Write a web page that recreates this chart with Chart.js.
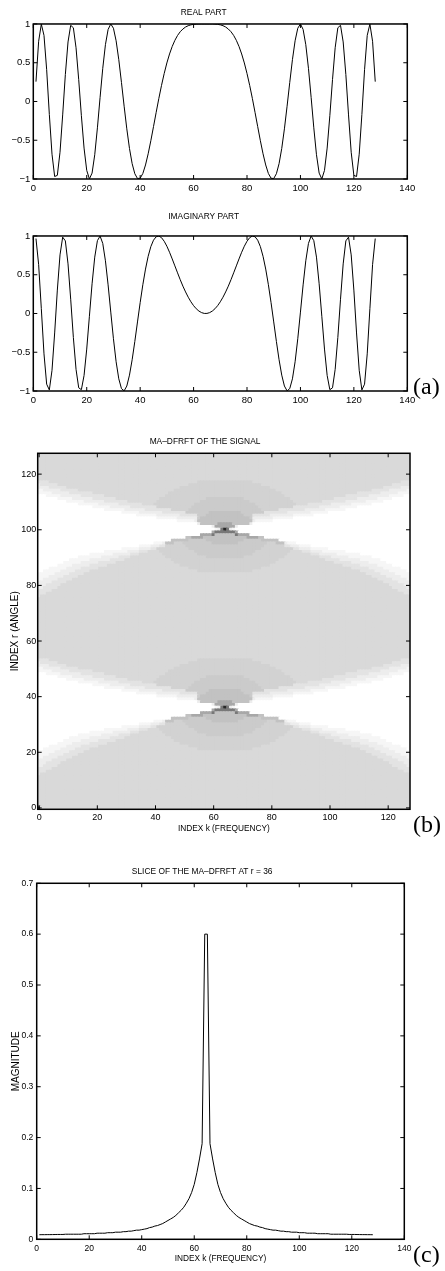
<!DOCTYPE html>
<html lang="en">
<head>
  <meta charset="UTF-8">
  <title>MA-DFRFT of a chirp signal</title>
  <script src="https://cdn.jsdelivr.net/npm/chart.js"></script>
  <style>
    * { margin: 0; padding: 0; box-sizing: border-box; }
    body { width: 445px; height: 1271px; background: #fff; position: relative; overflow: hidden; }
    canvas { position: absolute; left: 0; display: block; }
  </style>
</head>
<body>
  <canvas id="realChart" width="445" height="200" style="top:0"></canvas>
  <canvas id="imagChart" width="445" height="212" style="top:200px"></canvas>
  <canvas id="heatChart" width="445" height="428" style="top:412px"></canvas>
  <canvas id="sliceChart" width="445" height="431" style="top:840px"></canvas>

  <script>
    // ---- data ----
    // (a) chirp signal, samples n = 1..128
    const realPart = [
      0.256, 0.777, 0.998, 0.853, 0.410, -0.167, -0.680, -0.968,
      -0.953, -0.655, -0.173, 0.348, 0.768, 0.983, 0.951, 0.693,
      0.282, -0.183, -0.601, -0.889, -0.999, -0.924, -0.687, -0.340,
      0.053, 0.428, 0.733, 0.929, 1.000, 0.945, 0.783, 0.539,
      0.246, -0.061, -0.353, -0.606, -0.802, -0.932, -0.994, -0.990,
      -0.929, -0.819, -0.675, -0.506, -0.324, -0.140, 0.040, 0.208,
      0.361, 0.497, 0.613, 0.710, 0.789, 0.852, 0.900, 0.935,
      0.961, 0.978, 0.989, 0.995, 0.998, 1.000, 1.000, 1.000,
      1.000, 1.000, 1.000, 0.998, 0.995, 0.989, 0.978, 0.961,
      0.935, 0.900, 0.852, 0.789, 0.710, 0.613, 0.497, 0.361,
      0.208, 0.040, -0.140, -0.324, -0.506, -0.675, -0.819, -0.929,
      -0.990, -0.994, -0.932, -0.802, -0.606, -0.353, -0.061, 0.246,
      0.539, 0.783, 0.945, 1.000, 0.929, 0.733, 0.428, 0.053,
      -0.340, -0.687, -0.924, -0.999, -0.889, -0.601, -0.183, 0.282,
      0.693, 0.951, 0.983, 0.768, 0.348, -0.173, -0.655, -0.953,
      -0.968, -0.680, -0.167, 0.410, 0.853, 0.998, 0.777, 0.256
    ];
    const imagPart = [
      0.967, 0.630, 0.062, -0.521, -0.912, -0.986, -0.733, -0.251,
      0.302, 0.756, 0.985, 0.937, 0.640, 0.184, -0.310, -0.721,
      -0.959, -0.983, -0.800, -0.459, -0.036, 0.383, 0.727, 0.940,
      0.999, 0.904, 0.680, 0.369, 0.018, -0.326, -0.623, -0.843,
      -0.969, -0.998, -0.936, -0.795, -0.597, -0.361, -0.109, 0.140,
      0.371, 0.573, 0.738, 0.863, 0.946, 0.990, 0.999, 0.978,
      0.932, 0.868, 0.790, 0.704, 0.614, 0.524, 0.436, 0.353,
      0.278, 0.210, 0.151, 0.101, 0.061, 0.031, 0.011, 0.001,
      0.001, 0.011, 0.031, 0.061, 0.101, 0.151, 0.210, 0.278,
      0.353, 0.436, 0.524, 0.614, 0.704, 0.790, 0.868, 0.932,
      0.978, 0.999, 0.990, 0.946, 0.863, 0.738, 0.573, 0.371,
      0.140, -0.109, -0.361, -0.597, -0.795, -0.936, -0.998, -0.969,
      -0.843, -0.623, -0.326, 0.018, 0.369, 0.680, 0.904, 0.999,
      0.940, 0.727, 0.383, -0.036, -0.459, -0.800, -0.983, -0.959,
      -0.721, -0.310, 0.184, 0.640, 0.937, 0.985, 0.756, 0.302,
      -0.251, -0.733, -0.986, -0.912, -0.521, 0.062, 0.630, 0.967
    ];

    // (b) MA-DFRFT magnitude, 128 x 128 cells, row r = 127 first.
    // run-length coded "level*count" along k; level 0 = darkest ... 9 = white
    const heatRuns = [
      '5*128', '5*128', '5*128', '5*128', '5*128',
      '5*128', '5*128', '5*128', '5*128', '5*128',
      '6*4 5*51 a*19 5*51 6*3',
      '7*1 6*6 5*45 a*25 5*45 6*6',
      '7*4 6*6 5*39 a*31 5*39 6*6 7*3',
      '8*2 7*6 6*6 5*33 a*35 5*33 6*6 7*6 8*1',
      '8*5 7*6 6*8 5*26 a*39 5*26 6*8 7*6 8*4',
      '9*3 8*5 7*7 6*8 5*21 a*41 5*21 6*8 7*7 8*5 9*2',
      '9*7 8*5 7*7 6*8 5*15 a*16 4*13 a*16 5*15 6*8 7*7 8*5 9*6',
      '9*10 8*6 7*7 6*8 5*10 a*15 4*17 a*15 5*10 6*8 7*7 8*6 9*9',
      '9*14 8*7 7*7 6*8 5*4 a*14 4*21 a*14 5*4 6*8 7*7 8*7 9*13',
      '9*19 8*6 7*7 6*9 a*12 4*23 a*12 6*9 7*7 8*6 9*18',
      '9*23 8*7 7*7 6*9 a*6 4*25 a*6 6*9 7*7 8*7 9*22',
      '9*29 8*6 7*8 6*8 4*8 3*11 4*8 6*8 7*8 8*6 9*28',
      '9*34 8*7 7*8 6*6 4*3 3*13 4*3 6*6 7*8 8*7 9*33',
      '9*41 8*7 7*7 4*1 3*17 4*1 7*7 8*7 9*40',
      '9*48 8*6 7*1 3*19 7*1 8*6 9*47',
      '9*55 7*1 3*6 2*5 3*6 7*1 9*54',
      '9*60 7*1 2*7 7*1 9*59',
      '9*61 8*1 7*1 1*1 0*1 1*1 7*1 8*1 9*60',
      '9*60 2*1 1*7 2*1 9*59',
      '9*56 2*4 1*1 3*7 1*1 2*4 9*55',
      '9*51 3*2 2*4 3*15 2*4 3*2 9*50',
      '9*46 3*6 4*6 3*13 4*6 3*6 9*45',
      '9*40 8*3 7*1 3*3 a*3 4*10 3*9 4*10 a*3 3*3 7*1 8*3 9*39',
      '9*35 8*4 7*3 6*2 a*7 4*27 a*7 6*2 7*3 8*4 9*34',
      '9*29 8*6 7*4 6*2 a*11 4*25 a*11 6*2 7*4 8*6 9*28',
      '9*23 8*8 7*4 6*3 5*4 a*12 4*21 a*12 5*4 6*3 7*4 8*8 9*22',
      '9*18 8*8 7*6 6*3 5*8 a*12 4*19 a*12 5*8 6*3 7*6 8*8 9*17',
      '9*14 8*8 7*6 6*4 5*12 a*14 4*13 a*14 5*12 6*4 7*6 8*8 9*13',
      '9*11 8*7 7*7 6*5 5*16 a*37 5*16 6*5 7*7 8*7 9*10',
      '9*9 8*6 7*6 6*6 5*20 a*35 5*20 6*6 7*6 8*6 9*8',
      '9*7 8*5 7*6 6*6 5*25 a*31 5*25 6*6 7*6 8*5 9*6',
      '9*4 8*6 7*5 6*6 5*31 a*25 5*31 6*6 7*5 8*6 9*3',
      '9*2 8*6 7*5 6*5 5*37 a*19 5*37 6*5 7*5 8*6 9*1',
      '8*6 7*5 6*5 5*97 6*5 7*5 8*5',
      '8*4 7*5 6*5 5*101 6*5 7*5 8*3',
      '8*2 7*5 6*5 5*105 6*5 7*5 8*1',
      '7*5 6*5 5*109 6*5 7*4',
      '7*3 6*5 5*113 6*5 7*2',
      '7*2 6*5 5*115 6*5 7*1',
      '6*5 5*119 6*4',
      '6*3 5*123 6*2',
      '6*1 5*127',
      '5*128', '5*128', '5*128', '5*128',
      '5*128', '5*128', '5*128', '5*128',
      '5*128', '5*128', '5*128', '5*128', '5*128', '5*128', '5*128',
      '5*128', '5*128', '5*128', '5*128', '5*128', '5*128', '5*128',
      '6*4 5*51 a*19 5*51 6*3',
      '7*1 6*6 5*45 a*25 5*45 6*6',
      '7*4 6*6 5*39 a*31 5*39 6*6 7*3',
      '8*2 7*6 6*6 5*33 a*35 5*33 6*6 7*6 8*1',
      '8*5 7*6 6*8 5*26 a*39 5*26 6*8 7*6 8*4',
      '9*3 8*5 7*7 6*8 5*21 a*41 5*21 6*8 7*7 8*5 9*2',
      '9*7 8*5 7*7 6*8 5*15 a*16 4*13 a*16 5*15 6*8 7*7 8*5 9*6',
      '9*10 8*6 7*7 6*8 5*10 a*15 4*17 a*15 5*10 6*8 7*7 8*6 9*9',
      '9*14 8*7 7*7 6*8 5*4 a*14 4*21 a*14 5*4 6*8 7*7 8*7 9*13',
      '9*19 8*6 7*7 6*9 a*12 4*23 a*12 6*9 7*7 8*6 9*18',
      '9*23 8*7 7*7 6*9 a*6 4*25 a*6 6*9 7*7 8*7 9*22',
      '9*29 8*6 7*8 6*8 4*8 3*11 4*8 6*8 7*8 8*6 9*28',
      '9*34 8*7 7*8 6*6 4*3 3*13 4*3 6*6 7*8 8*7 9*33',
      '9*41 8*7 7*7 4*1 3*17 4*1 7*7 8*7 9*40',
      '9*48 8*6 7*1 3*19 7*1 8*6 9*47',
      '9*55 7*1 3*6 2*5 3*6 7*1 9*54',
      '9*60 7*1 2*7 7*1 9*59',
      '9*61 8*1 7*1 1*1 0*1 1*1 7*1 8*1 9*60',
      '9*60 2*1 1*7 2*1 9*59',
      '9*56 2*4 1*1 3*7 1*1 2*4 9*55',
      '9*51 3*2 2*4 3*15 2*4 3*2 9*50',
      '9*46 3*6 4*6 3*13 4*6 3*6 9*45',
      '9*40 8*3 7*1 3*3 a*3 4*10 3*9 4*10 a*3 3*3 7*1 8*3 9*39',
      '9*35 8*4 7*3 6*2 a*7 4*27 a*7 6*2 7*3 8*4 9*34',
      '9*29 8*6 7*4 6*2 a*11 4*25 a*11 6*2 7*4 8*6 9*28',
      '9*23 8*8 7*4 6*3 5*4 a*12 4*21 a*12 5*4 6*3 7*4 8*8 9*22',
      '9*18 8*8 7*6 6*3 5*8 a*12 4*19 a*12 5*8 6*3 7*6 8*8 9*17',
      '9*14 8*8 7*6 6*4 5*12 a*14 4*13 a*14 5*12 6*4 7*6 8*8 9*13',
      '9*11 8*7 7*7 6*5 5*16 a*37 5*16 6*5 7*7 8*7 9*10',
      '9*9 8*6 7*6 6*6 5*20 a*35 5*20 6*6 7*6 8*6 9*8',
      '9*7 8*5 7*6 6*6 5*25 a*31 5*25 6*6 7*6 8*5 9*6',
      '9*4 8*6 7*5 6*6 5*31 a*25 5*31 6*6 7*5 8*6 9*3',
      '9*2 8*6 7*5 6*5 5*37 a*19 5*37 6*5 7*5 8*6 9*1',
      '8*6 7*5 6*5 5*97 6*5 7*5 8*5',
      '8*4 7*5 6*5 5*101 6*5 7*5 8*3',
      '8*2 7*5 6*5 5*105 6*5 7*5 8*1',
      '7*5 6*5 5*109 6*5 7*4',
      '7*3 6*5 5*113 6*5 7*2',
      '7*2 6*5 5*115 6*5 7*1',
      '6*5 5*119 6*4',
      '6*3 5*123 6*2',
      '6*1 5*127',
      '5*128', '5*128', '5*128', '5*128',
      '5*128', '5*128', '5*128', '5*128',
      '5*128', '5*128', '5*128',
      '1*1 5*127'
    ];

    // (c) slice at r = 36, k = 1..128
    const sliceValues = [
      0.0090, 0.0091, 0.0091, 0.0092, 0.0092, 0.0093, 0.0094, 0.0095, 0.0095, 0.0095,
      0.010, 0.010, 0.010, 0.010, 0.010, 0.010, 0.010, 0.011, 0.011, 0.011,
      0.011, 0.011, 0.012, 0.012, 0.012, 0.012, 0.013, 0.013, 0.013, 0.014,
      0.014, 0.014, 0.015, 0.015, 0.016, 0.016, 0.017, 0.018, 0.018, 0.019,
      0.020, 0.021, 0.023, 0.024, 0.026, 0.027, 0.029, 0.031, 0.034, 0.037,
      0.040, 0.043, 0.047, 0.052, 0.057, 0.063, 0.071, 0.080, 0.092, 0.108,
      0.131, 0.158, 0.188, 0.600,
      0.600, 0.188, 0.158, 0.131, 0.108, 0.092, 0.080, 0.071, 0.063, 0.057,
      0.052, 0.047, 0.043, 0.040, 0.037, 0.034, 0.031, 0.029, 0.027, 0.026,
      0.024, 0.023, 0.021, 0.020, 0.019, 0.018, 0.018, 0.017, 0.016, 0.016,
      0.015, 0.015, 0.014, 0.014, 0.014, 0.013, 0.013, 0.013, 0.012, 0.012,
      0.012, 0.012, 0.011, 0.011, 0.011, 0.011, 0.011, 0.010, 0.010, 0.010,
      0.010, 0.010, 0.010, 0.010, 0.0095, 0.0095, 0.0095, 0.0094, 0.0093, 0.0092,
      0.0092, 0.0091, 0.0091, 0.0090
    ];

    const signalXTicks = [0, 20, 40, 60, 80, 100, 120, 140];
    const signalYTicks = [-1, -0.5, 0, 0.5, 1];
    const heatTicks = [0, 20, 40, 60, 80, 100, 120];
    const sliceYTicks = [0, 0.1, 0.2, 0.3, 0.4, 0.5, 0.6, 0.7];

    // ---- styling ----
    const grayLevels = { 0: 40, 1: 120, 2: 168, 3: 194, 4: 203, a: 210, 5: 217, 6: 227, 7: 237, 8: 246, 9: 255 };

    Chart.defaults.font.family = "'Liberation Sans', Arial, Helvetica, sans-serif";
    Chart.defaults.color = '#000';
    Chart.defaults.animation = false;
    Chart.defaults.events = [];
    Chart.defaults.plugins.legend.display = false;
    Chart.defaults.plugins.tooltip.enabled = false;

    const minus = v => String(v).replace('-', '\u2212');

    function linearAxis({ min, max, ticks, size, fontSize, pad, horizontal, title }) {
      return {
        type: 'linear',
        min, max,
        afterBuildTicks: s => { s.ticks = ticks.map(value => ({ value })); },
        afterFit: s => { if (horizontal) s.height = size; else s.width = size; },
        grid: { display: false, drawTicks: false },
        border: { display: false },
        ticks: { autoSkip: false, maxRotation: 0, padding: pad, font: { size: fontSize }, callback: minus },
        title: title || { display: false }
      };
    }

    function chartTitle(text, top, bottom) {
      return { display: true, text, font: { size: 8.4, weight: 'normal' }, padding: { top, bottom } };
    }

    // MATLAB style box with inward ticks on all four sides
    const axesBox = {
      id: 'axesBox',
      afterDatasetsDraw(chart) {
        const { ctx, chartArea: a, scales: { x, y } } = chart;
        const len = 4;
        ctx.save();
        ctx.strokeStyle = '#000';
        ctx.lineWidth = 1;
        ctx.beginPath();
        x.ticks.forEach(t => {
          const p = x.getPixelForValue(t.value);
          ctx.moveTo(p, a.bottom); ctx.lineTo(p, a.bottom - len);
          ctx.moveTo(p, a.top); ctx.lineTo(p, a.top + len);
        });
        y.ticks.forEach(t => {
          const p = y.getPixelForValue(t.value);
          ctx.moveTo(a.left, p); ctx.lineTo(a.left + len, p);
          ctx.moveTo(a.right, p); ctx.lineTo(a.right - len, p);
        });
        ctx.stroke();
        ctx.lineWidth = 1.5;
        ctx.strokeRect(a.left, a.top, a.width, a.height);
        ctx.restore();
      }
    };

    // (a) / (b) / (c) tags
    const panelTag = {
      id: 'panelTag',
      afterDraw(chart, args, opts) {
        if (!opts.text) return;
        const { ctx } = chart;
        ctx.save();
        ctx.font = "24px 'Liberation Serif', 'Times New Roman', serif";
        ctx.fillStyle = '#000';
        ctx.textBaseline = 'middle';
        ctx.fillText(opts.text, opts.x, opts.y);
        ctx.restore();
      }
    };

    function signalChart(id, values, titleText, titlePad, tag) {
      return new Chart(document.getElementById(id), {
        type: 'line',
        data: {
          datasets: [{
            data: values.map((v, i) => ({ x: i + 1, y: v })),
            borderColor: '#000',
            borderWidth: 1,
            pointRadius: 0,
            tension: 0
          }]
        },
        options: {
          responsive: false,
          layout: { padding: { left: 0, right: 37.7, top: 0, bottom: 0 } },
          scales: {
            x: linearAxis({ min: 0, max: 140, ticks: signalXTicks, size: 21, fontSize: 9.5, pad: 3.6, horizontal: true }),
            y: linearAxis({ min: -1, max: 1, ticks: signalYTicks, size: 33.3, fontSize: 9.5, pad: 3 })
          },
          plugins: { title: chartTitle(titleText, titlePad[0], titlePad[1]), panelTag: tag }
        },
        plugins: [axesBox, panelTag]
      });
    }

    signalChart('realChart', realPart, 'REAL PART', [8, 5.9], {});
    signalChart('imagChart', imagPart, 'IMAGINARY PART', [12, 13.9], { text: '(a)', x: 413, y: 188 });

    // heatmap cells
    const heatCells = [];
    const heatColors = [];
    heatRuns.forEach((row, i) => {
      const r = heatRuns.length - 1 - i;
      let k = 0;
      row.split(' ').forEach(run => {
        const [lvl, count] = run.split('*');
        const g = grayLevels[lvl];
        for (let n = 0; n < Number(count); n++) {
          heatCells.push({ x: k, y: r });
          heatColors.push(`rgb(${g},${g},${g})`);
          k++;
        }
      });
    });

    // squares slightly larger than one cell so neighbours overlap (no seams)
    const cellRadius = ctx => {
      const { x, y } = ctx.chart.scales;
      const w = Math.abs(x.getPixelForValue(1) - x.getPixelForValue(0));
      const h = Math.abs(y.getPixelForValue(0) - y.getPixelForValue(1));
      return (Math.max(w, h) + 1.2) / Math.SQRT2;
    };

    new Chart(document.getElementById('heatChart'), {
      type: 'scatter',
      data: {
        datasets: [{
          data: heatCells,
          pointStyle: 'rect',
          pointBackgroundColor: heatColors,
          pointBorderWidth: 0,
          pointRadius: cellRadius,
          pointHoverRadius: cellRadius,
          clip: 0
        }]
      },
      options: {
        responsive: false,
        layout: { padding: { left: 0, right: 35, top: 0, bottom: 0 } },
        scales: {
          x: linearAxis({
            min: -0.5, max: 127.5, ticks: heatTicks, size: 30.7, fontSize: 9, pad: 3.3, horizontal: true,
            title: { display: true, text: 'INDEX k (FREQUENCY)', font: { size: 8.3 }, padding: { top: 0, bottom: 6 } }
          }),
          y: linearAxis({
            min: -0.5, max: 127.5, ticks: heatTicks, size: 37.7, fontSize: 9, pad: 1.5,
            title: { display: true, text: 'INDEX r (ANGLE)', font: { size: 10 }, padding: { top: 9, bottom: 0 } }
          })
        },
        plugins: { title: chartTitle('MA\u2013DFRFT OF THE SIGNAL', 25, 6.2), panelTag: { text: '(b)', x: 413, y: 414 } }
      },
      plugins: [axesBox, panelTag]
    });

    new Chart(document.getElementById('sliceChart'), {
      type: 'line',
      data: {
        datasets: [{
          data: sliceValues.map((v, i) => ({ x: i + 1, y: v })),
          borderColor: '#000',
          borderWidth: 1,
          pointRadius: 0,
          tension: 0
        }]
      },
      options: {
        responsive: false,
        layout: { padding: { left: 0, right: 40.7, top: 0, bottom: 0 } },
        scales: {
          x: linearAxis({
            min: 0, max: 140, ticks: signalXTicks, size: 31.7, fontSize: 8.5, pad: 3.9, horizontal: true,
            title: { display: true, text: 'INDEX k (FREQUENCY)', font: { size: 8.3 }, padding: { top: 0, bottom: 7.5 } }
          }),
          y: linearAxis({
            min: 0, max: 0.7, ticks: sliceYTicks, size: 36.7, fontSize: 8.5, pad: 3.4,
            title: { display: true, text: 'MAGNITUDE', font: { size: 10 }, padding: { top: 10, bottom: 0 } }
          })
        },
        plugins: { title: chartTitle('SLICE OF THE MA\u2013DFRFT AT r = 36', 27, 6.2), panelTag: { text: '(c)', x: 413, y: 416 } }
      },
      plugins: [axesBox, panelTag]
    });
  </script>
</body>
</html>
